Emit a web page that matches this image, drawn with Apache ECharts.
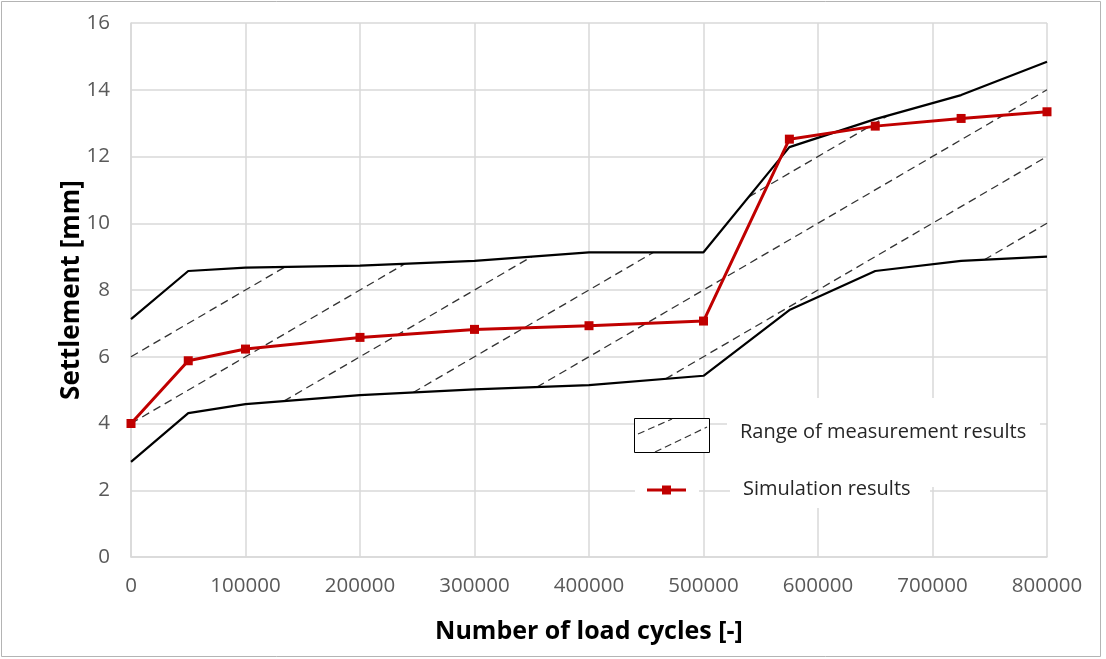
<!DOCTYPE html>
<html>
<head>
<meta charset="utf-8">
<script src="https://cdn.jsdelivr.net/npm/echarts@6/dist/echarts.min.js"></script>
<style>
  html, body { margin: 0; padding: 0; background: #ffffff; }
  #chart { width: 1106px; height: 659px; }
</style>
</head>
<body>
<div id="chart"></div>
<script>
// Load cycles at which settlements were evaluated
const cycles = [0, 50000, 100000, 200000, 300000, 400000, 500000, 575000, 650000, 725000, 800000];
// Upper and lower envelope of the measured settlements [mm]
const upperBound = [7.13, 8.57, 8.67, 8.73, 8.87, 9.13, 9.13, 12.28, 13.12, 13.84, 14.84];
const lowerBound = [2.85, 4.31, 4.58, 4.85, 5.02, 5.15, 5.43, 7.40, 8.57, 8.87, 9.00];
// Simulated settlements [mm]
const simulation = [4.0, 5.88, 6.23, 6.58, 6.82, 6.93, 7.07, 12.52, 12.91, 13.14, 13.34];
// Hatching of the measurement range: lines y = slope * x + intercept
const hatchSlope = 2 / 100000;
const hatchIntercepts = [6, 4, 2, 0, -2, -4, -6];
// Axis ticks
const xTicks = { min: 0, max: 800000, step: 100000 };
const yTicks = { min: 0, max: 16, step: 2 };

const FONT = '"Open Sans", "Noto Sans", sans-serif';

function interp(ys, x) {
  for (let i = 0; i < cycles.length - 1; i++) {
    const x0 = cycles[i], x1 = cycles[i + 1];
    if (x >= x0 && x <= x1) {
      const t = (x - x0) / (x1 - x0);
      return ys[i] + t * (ys[i + 1] - ys[i]);
    }
  }
  return NaN;
}

// Parts of one hatch line that lie between the lower and upper envelope
function hatchSegments(c) {
  const line = x => hatchSlope * x + c;
  const cand = cycles.slice();
  [upperBound, lowerBound].forEach(b => {
    for (let i = 0; i < cycles.length - 1; i++) {
      const x0 = cycles[i], x1 = cycles[i + 1];
      const d0 = line(x0) - b[i], d1 = line(x1) - b[i + 1];
      if (d0 * d1 < 0) cand.push(x0 + (x1 - x0) * d0 / (d0 - d1));
    }
  });
  cand.sort((a, b) => a - b);
  const inside = x => line(x) >= interp(lowerBound, x) - 1e-9 && line(x) <= interp(upperBound, x) + 1e-9;
  const segs = [];
  let cur = null;
  for (let i = 0; i < cand.length - 1; i++) {
    const a = cand[i], b = cand[i + 1];
    if (b - a < 1e-6) continue;
    if (inside((a + b) / 2)) {
      if (cur) cur[1] = b; else cur = [a, b];
    } else if (cur) { segs.push(cur); cur = null; }
  }
  if (cur) segs.push(cur);
  return segs.map(s => [[s[0], line(s[0])], [s[1], line(s[1])]]);
}

const hatchStyle = { color: '#333333', width: 1.3, type: [8, 5] };
const hatchSeries = [];
hatchIntercepts.forEach(c => {
  hatchSegments(c).forEach(seg => {
    hatchSeries.push({
      type: 'line', data: seg, showSymbol: false, silent: true, z: 1,
      lineStyle: hatchStyle
    });
  });
});

const pair = ys => cycles.map((x, i) => [x, ys[i]]);

const chart = echarts.init(document.getElementById('chart'), null, { renderer: 'canvas' });

const option = {
  animation: false,
  backgroundColor: '#ffffff',
  textStyle: { fontFamily: FONT },
  grid: { left: 131, right: 59, top: 23, bottom: 102, containLabel: false },
  xAxis: {
    type: 'value',
    min: xTicks.min, max: xTicks.max, interval: xTicks.step,
    name: 'Number of load cycles [-]',
    nameLocation: 'middle', nameGap: 62,
    nameTextStyle: { fontFamily: FONT, fontWeight: 'bold', fontSize: 25, color: '#000000' },
    axisLine: { show: true, lineStyle: { color: '#d9d9d9', width: 1.5 } },
    axisTick: { show: false },
    axisLabel: { fontFamily: FONT, fontSize: 20.5, color: '#595959', margin: 19, formatter: v => String(v) },
    splitLine: { show: true, lineStyle: { color: '#d9d9d9', width: 1.5 } }
  },
  yAxis: {
    type: 'value',
    min: yTicks.min, max: yTicks.max, interval: yTicks.step,
    name: 'Settlement [mm]',
    nameLocation: 'middle', nameGap: 46, nameRotate: 90, nameMoveOverlap: false,
    nameTextStyle: { fontFamily: FONT, fontWeight: 'bold', fontSize: 26, color: '#000000' },
    axisLine: { show: true, lineStyle: { color: '#d9d9d9', width: 1.5 } },
    axisTick: { show: false },
    axisLabel: { fontFamily: FONT, fontSize: 20.5, color: '#595959', margin: 21, formatter: v => String(v) },
    splitLine: { show: true, lineStyle: { color: '#d9d9d9', width: 1.5 } }
  },
  series: hatchSeries.concat([
    {
      name: 'Upper bound', type: 'line', data: pair(upperBound), showSymbol: false, silent: true, z: 3,
      lineStyle: { color: '#000000', width: 2.2 }
    },
    {
      name: 'Lower bound', type: 'line', data: pair(lowerBound), showSymbol: false, silent: true, z: 3,
      lineStyle: { color: '#000000', width: 2.2 }
    },
    {
      name: 'Simulation results', type: 'line', data: pair(simulation), z: 4,
      symbol: 'rect', symbolSize: 9, showSymbol: true,
      itemStyle: { color: '#c00000' },
      lineStyle: { color: '#c00000', width: 3 }
    }
  ]),
  graphic: [
    // outer frame
    { type: 'rect', shape: { x: 1.5, y: 1.5, width: 1099, height: 655 },
      style: { fill: null, stroke: '#b4b4b4', lineWidth: 1 }, z: 0 },
    // backgrounds behind the legend texts
    { type: 'rect', shape: { x: 727, y: 398, width: 313, height: 89 }, style: { fill: '#ffffff' }, z: 5 },
    { type: 'rect', shape: { x: 730, y: 470, width: 200, height: 38 }, style: { fill: '#ffffff' }, z: 5 },
    { type: 'rect', shape: { x: 635, y: 480, width: 64, height: 20 }, style: { fill: '#ffffff' }, z: 5 },
    // legend: measurement range
    { type: 'rect', shape: { x: 634.5, y: 418.5, width: 75, height: 34 },
      style: { fill: '#ffffff', stroke: '#000000', lineWidth: 1 }, z: 6 },
    { type: 'line', shape: { x1: 638, y1: 434, x2: 672, y2: 419 },
      style: { stroke: '#333333', lineWidth: 1.2, lineDash: [7, 4] }, z: 7 },
    { type: 'line', shape: { x1: 655, y1: 452, x2: 707, y2: 427 },
      style: { stroke: '#333333', lineWidth: 1.2, lineDash: [7, 4] }, z: 7 },
    { type: 'text', z: 7,
      style: { text: 'Range of measurement results', x: 740, y: 432, font: '20px ' + FONT, fill: '#262626',
               textAlign: 'left', textVerticalAlign: 'middle', align: 'left', verticalAlign: 'middle' } },
    // legend: simulation
    { type: 'line', shape: { x1: 647, y1: 490, x2: 686, y2: 490 },
      style: { stroke: '#c00000', lineWidth: 3 }, z: 7 },
    { type: 'rect', shape: { x: 662, y: 485.5, width: 9, height: 9 },
      style: { fill: '#c00000' }, z: 7 },
    { type: 'text', z: 7,
      style: { text: 'Simulation results', x: 743, y: 489, font: '20px ' + FONT, fill: '#262626',
               textAlign: 'left', textVerticalAlign: 'middle', align: 'left', verticalAlign: 'middle' } }
  ]
};

chart.setOption(option);
</script>
</body>
</html>
